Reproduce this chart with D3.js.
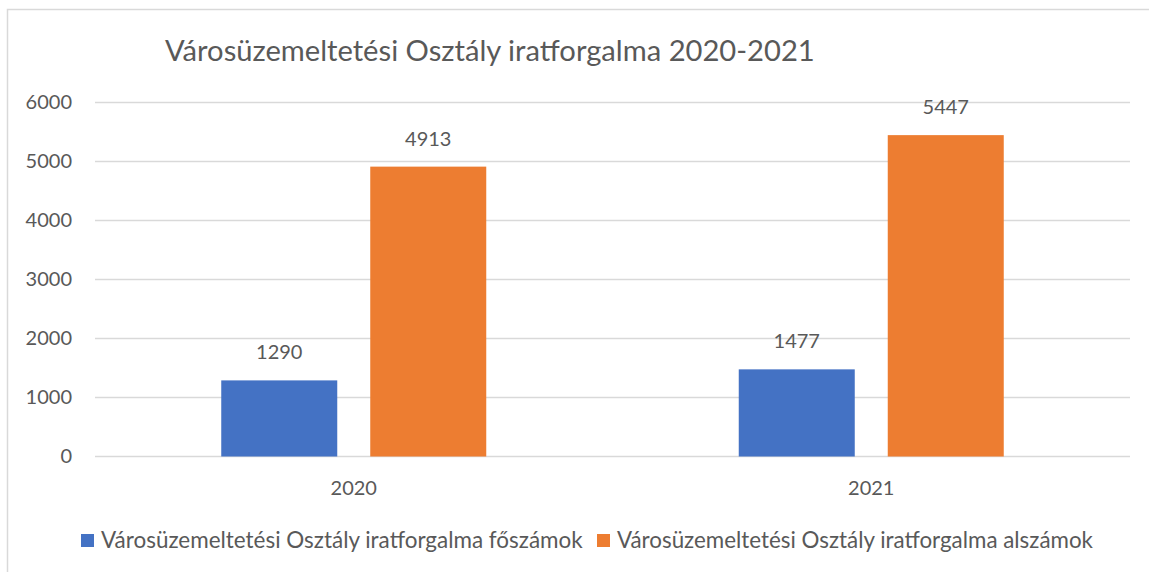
<!DOCTYPE html>
<html>
<head>
<meta charset="utf-8">
<script src="https://cdn.jsdelivr.net/npm/d3@7"></script>
<style>
  body { margin: 0; background: #fff; }
  text { font-family: Lato, "Open Sans", sans-serif; fill: #595959; }
</style>
</head>
<body>
<div id="chart"></div>
<script>
// data
const years = ["2020", "2021"];
const seriesNames = [
  "Városüzemeltetési Osztály iratforgalma főszámok",
  "Városüzemeltetési Osztály iratforgalma alszámok"
];
const foszamok = [1290, 1477];
const alszamok = [4913, 5447];
const yTicks = [0, 1000, 2000, 3000, 4000, 5000, 6000];
const colors = ["#4472c4", "#ed7d31"];

const W = 1149, H = 572;
const margin = { top: 102.5, right: 19, bottom: 115.5, left: 95 },
    width = W - margin.left - margin.right,
    height = H - margin.top - margin.bottom;

const svg = d3.select("#chart").append("svg")
    .attr("width", W).attr("height", H);

// chart border (only top/left visible in the crop)
svg.append("rect")
    .attr("x", 7.5).attr("y", 9.5)
    .attr("width", W + 10).attr("height", H + 10)
    .attr("fill", "none").attr("stroke", "#d9d9d9").attr("stroke-width", 1.5);

// fit text to a measured width
function fit(sel, targetW) {
  const w = sel.node().getComputedTextLength();
  const fs = parseFloat(sel.attr("font-size"));
  sel.attr("font-size", fs * targetW / w);
}

const title = svg.append("text")
    .attr("x", 165).attr("y", 61)
    .attr("font-size", 26)
    .text("Városüzemeltetési Osztály iratforgalma 2020-2021");
fit(title, 650);

const g = svg.append("g").attr("transform", `translate(${margin.left},${margin.top})`);

const x = d3.scaleBand().domain(years).range([0, width]);
const y = d3.scaleLinear().domain([0, 6000]).range([height, 0]);

// gridlines
g.append("g").selectAll("line").data(yTicks).join("line")
    .attr("x1", 0).attr("x2", width)
    .attr("y1", d => y(d)).attr("y2", d => y(d))
    .attr("stroke", "#d9d9d9").attr("stroke-width", 1.5);

// y axis
const yAxis = g.append("g").attr("transform", "translate(-23,0)")
    .call(d3.axisLeft(y).tickValues(yTicks).tickSize(0).tickPadding(0).tickFormat(d3.format("d")));
yAxis.select(".domain").remove();
yAxis.selectAll("text").attr("font-size", 20).attr("fill", "#595959")
    .style("font-family", "Lato, sans-serif");

// x axis
const xAxis = g.append("g").attr("transform", `translate(0,${height})`)
    .call(d3.axisBottom(x).tickSize(0).tickPadding(24));
xAxis.select(".domain").remove();
xAxis.selectAll("text").attr("font-size", 20).attr("fill", "#595959")
    .style("font-family", "Lato, sans-serif");

// bars
const barW = 116, gap = 33;
const series = [foszamok, alszamok];
series.forEach((vals, si) => {
  const off = si === 0 ? -(barW + gap / 2) : gap / 2;
  const grp = g.append("g");
  grp.selectAll("rect").data(vals).join("rect")
      .attr("x", (d, i) => x(years[i]) + x.bandwidth() / 2 + off)
      .attr("y", d => y(d))
      .attr("width", barW)
      .attr("height", d => height - y(d))
      .attr("fill", colors[si]);
  grp.selectAll("text").data(vals).join("text")
      .attr("x", (d, i) => x(years[i]) + x.bandwidth() / 2 + off + barW / 2)
      .attr("y", d => y(d) - 26)
      .attr("text-anchor", "middle")
      .attr("dominant-baseline", "middle")
      .attr("font-size", 20)
      .text(d => d);
});

// legend
const legendX = [81, 597];
const legendW = [482, 476];
seriesNames.forEach((name, i) => {
  svg.append("rect")
      .attr("x", legendX[i]).attr("y", 534)
      .attr("width", 13).attr("height", 13)
      .attr("fill", colors[i]);
  const t = svg.append("text")
      .attr("x", legendX[i] + 20).attr("y", 548)
      .attr("font-size", 20)
      .text(name);
  fit(t, legendW[i]);
});
</script>
</body>
</html>
